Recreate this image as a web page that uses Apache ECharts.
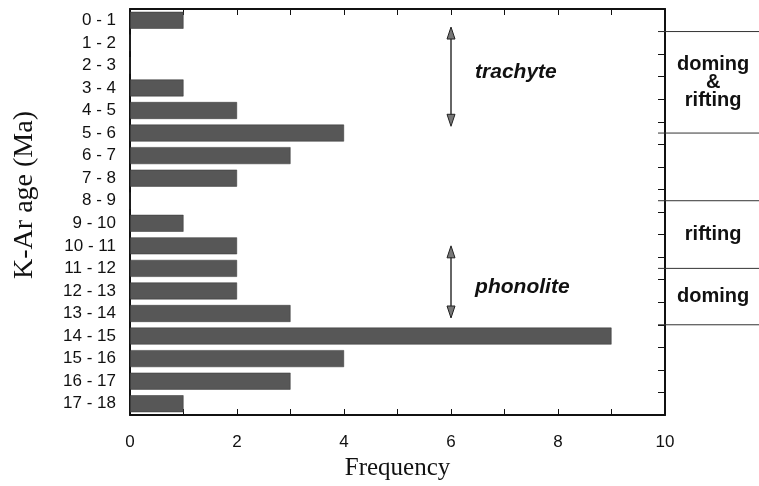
<!DOCTYPE html>
<html>
<head>
<meta charset="utf-8">
<script src="https://cdn.jsdelivr.net/npm/echarts@6/dist/echarts.min.js"></script>
<style>
  html, body { margin: 0; padding: 0; background: #fff; }
  #main { width: 759px; height: 486px; }
</style>
</head>
<body>
<div id="main"></div>
<script>
// K-Ar age bins (Ma) and number of dated samples in each
const ageBins = ['0 - 1', '1 - 2', '2 - 3', '3 - 4', '4 - 5', '5 - 6', '6 - 7', '7 - 8', '8 - 9',
  '9 - 10', '10 - 11', '11 - 12', '12 - 13', '13 - 14', '14 - 15', '15 - 16', '16 - 17', '17 - 18'];
const frequency = [1, 0, 0, 1, 2, 4, 3, 2, 0, 1, 2, 2, 2, 3, 9, 4, 3, 1];

// tectonic phases on the right (boundaries in Ma)
const phaseBounds = [1, 5.5, 8.5, 11.5, 14];
const phaseNames = ['doming\n&\nrifting', 'rifting', 'doming'];
const phaseMid = [3.25, 10, 12.75];

// rock type ranges (arrows at frequency 6)
const rockNames = ['trachyte', 'phonolite'];
const rockRanges = [[0.8, 5.2], [10.5, 13.7]];
const rockLabelAge = [2.8, 12.35];

const sans = '"Liberation Sans", Arial, Helvetica, sans-serif';
const serif = '"Liberation Serif", "Times New Roman", serif';

var myChart = echarts.init(document.getElementById('main'));

var option = {
  animation: false,
  grid: { left: 130, right: 94, top: 9, bottom: 67 },
  xAxis: [
    {
      type: 'value', min: 0, max: 10, interval: 1,
      name: 'Frequency', nameLocation: 'middle', nameGap: 41,
      nameTextStyle: { fontFamily: serif, fontSize: 25, color: '#111' },
      axisLine: { onZero: false, lineStyle: { color: '#111', width: 2 } },
      axisTick: { inside: true, length: 6, lineStyle: { color: '#111' } },
      axisLabel: {
        margin: 19, fontSize: 17, fontFamily: sans, color: '#111',
        formatter: function (v) { return v % 2 ? '' : v; }
      },
      splitLine: { show: false }
    },
    {
      type: 'value', min: 0, max: 10, interval: 1, position: 'top',
      axisLine: { onZero: false, lineStyle: { color: '#111', width: 2 } },
      axisTick: { inside: true, length: 6, lineStyle: { color: '#111' } },
      axisLabel: { show: false },
      splitLine: { show: false }
    }
  ],
  yAxis: [
    {
      type: 'category', data: ageBins, inverse: true,
      name: 'K-Ar age (Ma)', nameLocation: 'middle', nameGap: 91,
      nameTextStyle: { fontFamily: serif, fontSize: 28, color: '#111', padding: [0, 0, 0, 34] },
      axisLine: { onZero: false, lineStyle: { color: '#111', width: 2 } },
      axisTick: { inside: true, length: 5, lineStyle: { color: '#111' } },
      axisLabel: { margin: 14, fontSize: 17, fontFamily: sans, color: '#111' }
    },
    {
      type: 'value', min: 0, max: 18, interval: 1, inverse: true, position: 'right',
      axisLine: { show: true, onZero: false, lineStyle: { color: '#111', width: 2 } },
      axisTick: { show: true, inside: true, length: 7, lineStyle: { color: '#111' } },
      axisLabel: { show: false },
      splitLine: { show: false }
    }
  ],
  series: [
    {
      type: 'bar',
      data: frequency,
      barCategoryGap: '25%',
      itemStyle: { color: '#575757', borderColor: '#333', borderWidth: 0.5 }
    },
    {
      // phase boundary lines to the right of the frame
      type: 'custom', xAxisIndex: 0, yAxisIndex: 1, clip: false, silent: true,
      data: phaseBounds.map(function (a) { return [10, 11.8, a]; }),
      renderItem: function (params, api) {
        var p0 = api.coord([api.value(0), api.value(2)]);
        var p1 = api.coord([api.value(1), api.value(2)]);
        return {
          type: 'line',
          shape: { x1: p0[0] - 7, y1: p0[1], x2: p1[0], y2: p1[1] },
          style: { stroke: '#333', lineWidth: 1 }
        };
      }
    },
    {
      // phase names
      type: 'custom', xAxisIndex: 0, yAxisIndex: 1, clip: false, silent: true,
      data: phaseMid.map(function (a) { return [10.9, a]; }),
      renderItem: function (params, api) {
        var p = api.coord([api.value(0), api.value(1)]);
        return {
          type: 'text',
          x: p[0], y: p[1],
          style: {
            text: phaseNames[params.dataIndex],
            font: 'bold 20px ' + sans, fill: '#111',
            align: 'center', verticalAlign: 'middle', lineHeight: 18
          }
        };
      }
    },
    {
      // double-headed arrows for rock types
      type: 'custom', xAxisIndex: 0, yAxisIndex: 1, clip: false, silent: true,
      data: rockRanges.map(function (r) { return [6, r[0], r[1]]; }),
      renderItem: function (params, api) {
        var t = api.coord([api.value(0), api.value(1)]);
        var b = api.coord([api.value(0), api.value(2)]);
        var x = t[0], hl = 12, hw = 4;
        var head = { fill: '#777', stroke: '#222', lineWidth: 1 };
        return {
          type: 'group',
          children: [
            { type: 'line', shape: { x1: x, y1: t[1] + hl - 2, x2: x, y2: b[1] - hl + 2 },
              style: { stroke: '#333', lineWidth: 1.5 } },
            { type: 'polygon', shape: { points: [[x, t[1]], [x - hw, t[1] + hl], [x + hw, t[1] + hl]] },
              style: head },
            { type: 'polygon', shape: { points: [[x, b[1]], [x - hw, b[1] - hl], [x + hw, b[1] - hl]] },
              style: head }
          ]
        };
      }
    },
    {
      // rock type labels
      type: 'custom', xAxisIndex: 0, yAxisIndex: 1, clip: false, silent: true,
      data: rockLabelAge.map(function (a) { return [6.45, a]; }),
      renderItem: function (params, api) {
        var p = api.coord([api.value(0), api.value(1)]);
        return {
          type: 'text',
          x: p[0], y: p[1],
          style: {
            text: rockNames[params.dataIndex],
            font: 'italic bold 21px ' + sans, fill: '#111',
            align: 'left', verticalAlign: 'middle'
          }
        };
      }
    }
  ]
};

myChart.setOption(option);
</script>
</body>
</html>
